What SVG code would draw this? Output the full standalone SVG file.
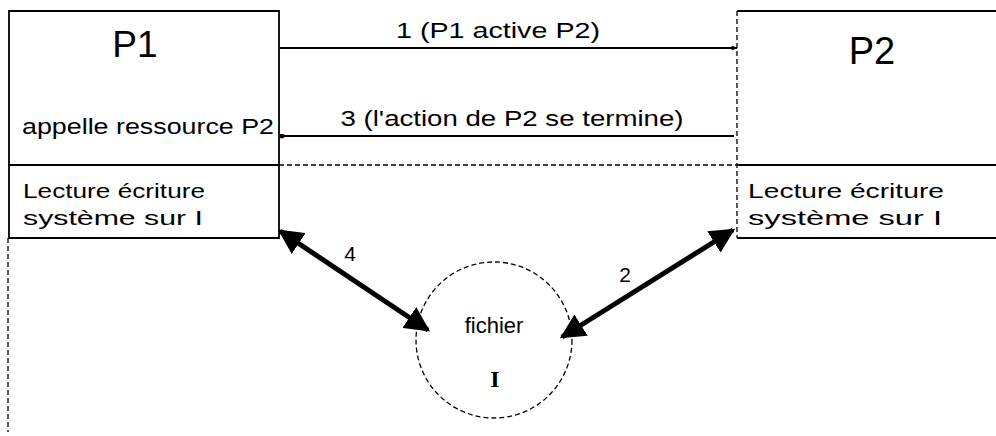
<svg xmlns="http://www.w3.org/2000/svg" width="996" height="436" viewBox="0 0 996 436">
<style>
text{font-family:"Liberation Sans",Arial,sans-serif;fill:#000}
.box{fill:none;stroke:#000;stroke-width:1.8}
.dash{fill:none;stroke:#000;stroke-width:1.3;stroke-dasharray:5,3}
.thin{stroke:#000;stroke-width:1.8;fill:none}
.thick{stroke:#000;stroke-width:5;fill:none}
</style>
<defs>
<marker id="ah" viewBox="0 0 10 10" refX="9" refY="5" markerWidth="7" markerHeight="6" markerUnits="userSpaceOnUse" orient="auto"><path d="M0,1 L10,5 L0,9 z" fill="#000"/></marker>
<marker id="dot" viewBox="0 0 10 10" refX="5" refY="5" markerWidth="5" markerHeight="5" markerUnits="userSpaceOnUse"><circle cx="5" cy="5" r="5" fill="#000"/></marker>
<marker id="big" viewBox="0 0 10 10" refX="9" refY="5" markerWidth="5" markerHeight="5" orient="auto-start-reverse"><path d="M0,0 L10,5 L0,10 z" fill="#000"/></marker>
</defs>
<g id="P1">
<path class="box" d="M9,238 V11 H279 V238 Z M9,165 H279"/>
<path class="dash" d="M8,238 V432"/>
<text x="135" y="57" font-size="37" text-anchor="middle">P1</text>
<text x="22" y="134" font-size="22" textLength="252" lengthAdjust="spacingAndGlyphs">appelle ressource P2</text>
<text x="23" y="198" font-size="20" textLength="182" lengthAdjust="spacingAndGlyphs">Lecture écriture</text>
<text x="23" y="225" font-size="20" textLength="180" lengthAdjust="spacingAndGlyphs">système  sur   I</text>
</g>
<g id="P2">
<path class="box" d="M737,11 H996 M737,165 H996 M737,238 H996"/>
<path class="dash" d="M737,11 V238"/>
<text x="872" y="64" font-size="38" text-anchor="middle">P2</text>
<text x="748" y="198" font-size="20" textLength="196" lengthAdjust="spacingAndGlyphs">Lecture écriture</text>
<text x="748" y="225" font-size="20" textLength="194" lengthAdjust="spacingAndGlyphs">système  sur   I</text>
</g>
<g id="fichier">
<circle cx="494" cy="340" r="78" class="dash"/>
<text x="494" y="333" font-size="22" text-anchor="middle">fichier</text>
<text x="495" y="387" font-size="24" font-weight="bold" text-anchor="middle" style="font-family:'Liberation Serif',serif">I</text>
</g>
<g id="connectors">
<line class="thin" x1="280" y1="48" x2="737" y2="48" marker-end="url(#ah)"/>
<text x="498" y="38" font-size="22" text-anchor="middle" textLength="204" lengthAdjust="spacingAndGlyphs">1 (P1 active P2)</text>
<line class="thin" x1="734" y1="136" x2="282" y2="136" marker-end="url(#dot)"/>
<text x="512" y="126" font-size="22" text-anchor="middle" textLength="343" lengthAdjust="spacingAndGlyphs">3  (l'action de P2 se termine)</text>
<path class="dash" d="M279,165 H737"/>
<line class="thick" x1="280" y1="231" x2="428" y2="330" marker-start="url(#big)" marker-end="url(#big)"/>
<text x="350" y="261" font-size="21" text-anchor="middle">4</text>
<line class="thick" x1="733" y1="230" x2="562" y2="337" marker-start="url(#big)" marker-end="url(#big)"/>
<text x="625" y="282" font-size="21" text-anchor="middle">2</text>
</g>
</svg>
